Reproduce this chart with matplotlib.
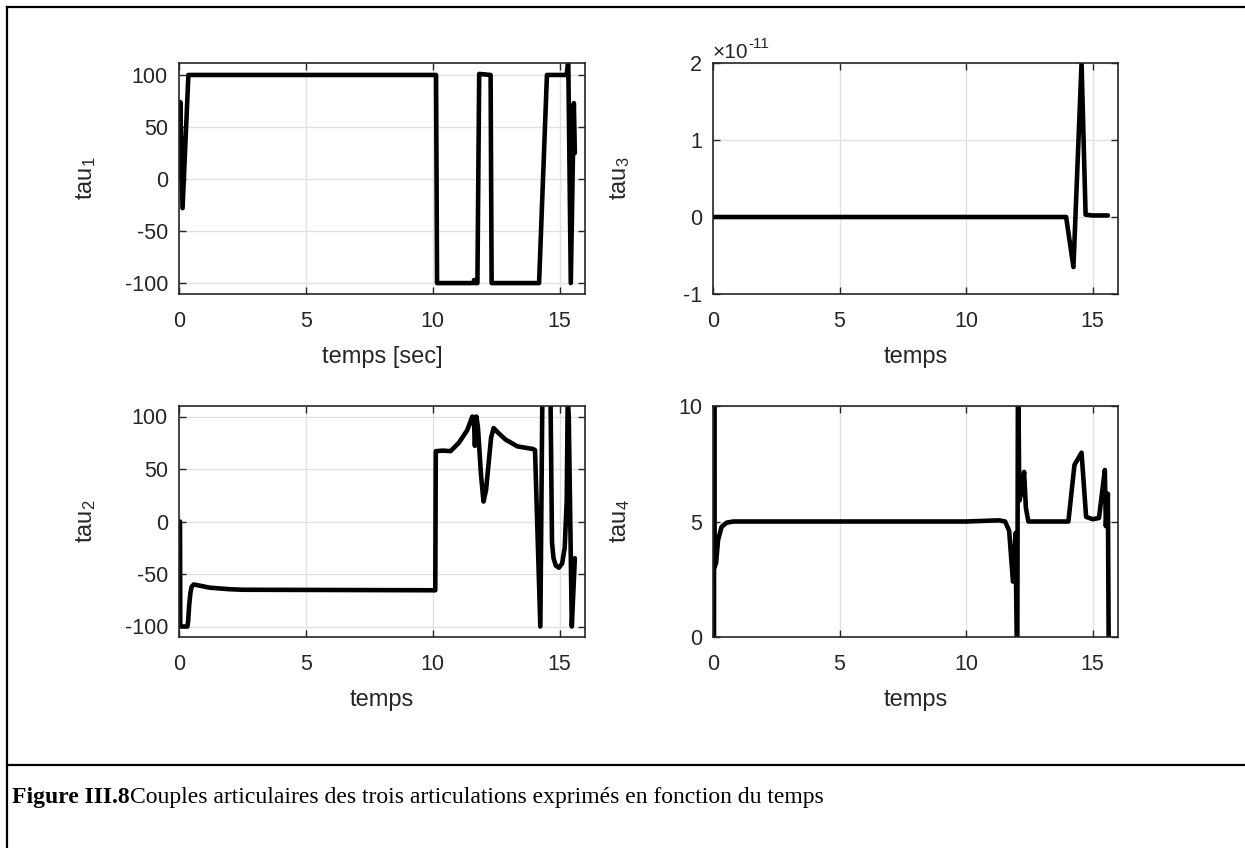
import matplotlib
matplotlib.use("Agg")
import matplotlib.pyplot as plt
from matplotlib.lines import Line2D
from matplotlib.ticker import FuncFormatter

plt.rcParams['font.family'] = ['Liberation Sans', 'DejaVu Sans']
plt.rcParams['mathtext.fontset'] = 'custom'
plt.rcParams['mathtext.rm'] = 'Liberation Sans'
plt.rcParams['mathtext.it'] = 'Liberation Sans'
plt.rcParams['axes.unicode_minus'] = False

# joint torque samples (time in seconds)
t1 = [0.03, 0.05, 0.14, 0.37, 10.13, 10.17, 11.6, 11.63, 11.67, 11.76, 11.83,
      12.28, 12.32, 14.19, 14.5, 15.28, 15.34, 15.44, 15.56, 15.6]
tau1 = [0, 74, -28, 100, 100, -100, -100, -97, -100, -100, 101,
        100, -100, -100, 100, 100, 115, -100, 73, 25]

t2 = [0.04, 0.05, 0.33, 0.36, 0.40, 0.45, 0.50, 0.58, 0.8, 1.2, 2.0, 2.5,
      10.1, 10.12, 10.4, 10.7, 11.03, 11.36, 11.56, 11.62, 11.66, 11.72,
      11.78, 11.9, 12.0, 12.1, 12.2, 12.3, 12.4, 12.6, 12.87, 13.34, 13.96,
      14.03, 14.24, 14.32, 14.64, 14.70, 14.76, 14.85, 14.97, 15.1, 15.2,
      15.28, 15.32, 15.36, 15.48, 15.6]
tau2 = [0, -100, -100, -95, -80, -68, -62, -60, -61, -63, -64.5, -65,
        -65.5, 67, 67.5, 67, 75, 87, 100, 98, 72, 100,
        90, 45, 19, 30, 55, 80, 89, 84, 78, 71.5, 69,
        68, -100, 120, 120, -20, -35, -42, -44, -40, -25,
        20, 120, 100, -100, -35]

t3 = [0, 13.95, 14.24, 14.56, 14.72, 15.0, 15.6]
tau3 = [0, 0, -0.65e-11, 2.0e-11, 0.03e-11, 0.02e-11, 0.02e-11]

t4 = [0.04, 0.045, 0.05, 0.12, 0.2, 0.34, 0.54, 0.8, 10.0, 11.3, 11.54, 11.7,
      11.85, 11.95, 12.02, 12.05, 12.1, 12.2, 12.29, 12.36, 12.46, 14.04,
      14.28, 14.56, 14.74, 15.0, 15.25, 15.35, 15.48, 15.52, 15.6, 15.64]
tau4 = [0, 13, 3.0, 3.2, 4.2, 4.77, 4.95, 5.0, 5.0, 5.05, 5.0, 4.6,
        2.4, 4.5, -2, 13, 5.9, 6.3, 7.15, 5.6, 5.0, 5.0,
        7.45, 7.98, 5.2, 5.1, 5.15, 6.07, 7.23, 4.8, 6.2, -2]

x_ticks = [0, 5, 10, 15]
tau3_scale = 1e-11
caption_bold = "Figure III.8"
caption_text = "Couples articulaires des trois articulations exprimés en fonction du temps"

W, H = 1245, 848
fig = plt.figure(figsize=(W / 100, H / 100), dpi=100)
fig.patch.set_facecolor('white')


def px_axes(left, top, right, bottom):
    return fig.add_axes([left / W, 1 - bottom / H, (right - left) / W, (bottom - top) / H])


panels = [
    (px_axes(179, 63, 585, 294), t1, tau1, (-110.5, 111.5), [-100, -50, 0, 50, 100],
     r'tau$_\mathregular{1}$', 'temps [sec]'),
    (px_axes(713, 63, 1118, 294), t3, tau3, (-1e-11, 2e-11), [-1e-11, 0, 1e-11, 2e-11],
     r'tau$_\mathregular{3}$', 'temps'),
    (px_axes(179, 406, 585, 637), t2, tau2, (-110, 110), [-100, -50, 0, 50, 100],
     r'tau$_\mathregular{2}$', 'temps'),
    (px_axes(713, 406, 1118, 637), t4, tau4, (0, 10), [0, 5, 10],
     r'tau$_\mathregular{4}$', 'temps'),
]

edge = '#262626'
for ax, t, y, ylim, yt, ylab, xlab in panels:
    ax.plot(t, y, color='black', lw=3.3, solid_joinstyle='round', solid_capstyle='round')
    ax.set_xlim(0, 16)
    ax.set_ylim(*ylim)
    ax.set_xticks(x_ticks)
    ax.set_yticks(yt)
    ax.grid(True, color='#e1e1e1', lw=1.0)
    ax.set_axisbelow(True)
    ax.tick_params(direction='in', top=True, right=True, length=5, width=1.0,
                   colors=edge, labelsize=15.5)
    ax.tick_params(axis='x', pad=12)
    ax.tick_params(axis='y', pad=8)
    for sp in ax.spines.values():
        sp.set_color(edge)
        sp.set_linewidth(1.2)
    ax.set_ylabel(ylab, fontsize=17, color=edge)
    ax.set_xlabel(xlab, fontsize=17, color=edge)
    ax.yaxis.set_label_coords(-0.2, 0.5)
    ax.xaxis.set_label_coords(0.5, -0.225)

ax3 = panels[1][0]
ax3.yaxis.set_major_formatter(FuncFormatter(lambda v, p: f'{v / tau3_scale:g}'))

# exponent marker above the tau3 axis
base = fig.text(713 / W, 1 - 58 / H, '×10', fontsize=15, color=edge, ha='left', va='baseline')
fig.canvas.draw()
bx = base.get_window_extent()
fig.text(bx.x1 / W, 1 - 48 / H, '-11', fontsize=11, color=edge, ha='left', va='baseline')

# page frame and caption separator
fig.add_artist(Line2D([7 / W, 7 / W], [0, 1 - 7 / H], color='black', lw=1.6))
fig.add_artist(Line2D([7 / W, 1], [1 - 7 / H, 1 - 7 / H], color='black', lw=1.6))
fig.add_artist(Line2D([7 / W, 1], [1 - 765 / H, 1 - 765 / H], color='black', lw=1.6))

cap_y = 1 - 797 / H
tb = fig.text(12 / W, cap_y, caption_bold, fontsize=17, fontweight='bold',
              family='Liberation Serif', va='center', ha='left')
fig.canvas.draw()
bb = tb.get_window_extent()
fig.text(bb.x1 / W, cap_y, caption_text, fontsize=17, family='Liberation Serif',
         va='center', ha='left')

fig.savefig('out.png', dpi=100)
